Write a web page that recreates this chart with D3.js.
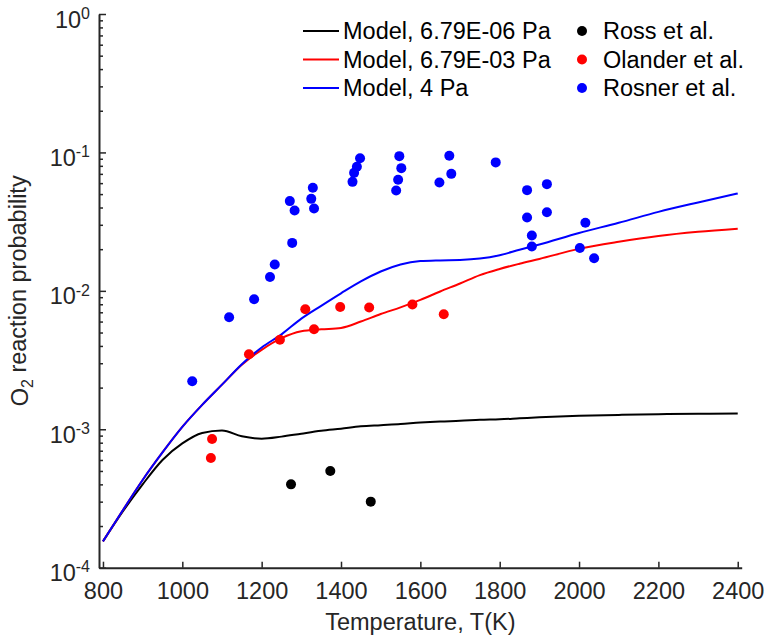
<!DOCTYPE html>
<html>
<head>
<meta charset="utf-8">
<script src="https://cdn.jsdelivr.net/npm/d3@7"></script>
<style>
  body { margin: 0; background: #fff; }
  text { font-family: "Liberation Sans", Arial, sans-serif; }
</style>
</head>
<body>
<div id="wrapper"></div>
<script>
// DATA
const tempGrid = [800, 850, 900, 950, 1000, 1050, 1100, 1150, 1200, 1250, 1300, 1350, 1400, 1450,
  1500, 1550, 1600, 1650, 1700, 1750, 1800, 1850, 1900, 2000, 2100, 2200, 2300, 2400]

const modelLow = [1.55e-4, 2.55e-4, 4.0e-4, 6.0e-4, 7.9e-4, 9.4e-4, 9.8e-4, 8.9e-4, 8.55e-4, 8.85e-4,
  9.3e-4, 9.75e-4, 1.01e-3, 1.05e-3, 1.07e-3, 1.09e-3, 1.12e-3, 1.14e-3, 1.15e-3, 1.17e-3,
  1.18e-3, 1.2e-3, 1.22e-3, 1.25e-3, 1.27e-3, 1.285e-3, 1.295e-3, 1.3e-3]

const modelMid = [1.55e-4, 2.6e-4, 4.3e-4, 6.8e-4, 1.04e-3, 1.5e-3, 2.1e-3, 2.93e-3, 3.75e-3, 4.55e-3,
  5.1e-3, 5.27e-3, 5.4e-3, 6.0e-3, 6.8e-3, 7.6e-3, 8.6e-3, 9.9e-3, 0.0113, 0.013,
  0.0144, 0.0157, 0.017, 0.0201, 0.0226, 0.0249, 0.0267, 0.0281]

const modelHigh = [1.55e-4, 2.6e-4, 4.3e-4, 6.8e-4, 1.04e-3, 1.5e-3, 2.1e-3, 2.95e-3, 3.9e-3, 4.85e-3,
  6.3e-3, 7.8e-3, 9.6e-3, 0.0117, 0.0138, 0.0155, 0.0164, 0.0166, 0.0167, 0.0171,
  0.0181, 0.0198, 0.0216, 0.0262, 0.031, 0.0372, 0.0435, 0.0505]

const rossT = [1274, 1373, 1475]
const rossP = [4.0e-4, 5.0e-4, 3.0e-4]

const olanderT = [1075, 1072, 1168, 1246, 1310, 1332, 1398, 1471, 1580, 1659]
const olanderP = [8.5e-4, 6.2e-4, 3.48e-3, 4.44e-3, 7.36e-3, 5.28e-3, 7.65e-3, 7.57e-3, 7.96e-3, 6.77e-3]

const rosnerT = [1025, 1118, 1181, 1221, 1233, 1277, 1271, 1283, 1329, 1325, 1332, 1429, 1433, 1440,
  1448, 1547, 1552, 1544, 1539, 1673, 1678, 1648, 1790, 1869, 1919, 1869, 1919, 2016, 1881,
  1881, 2002, 2038]
const rosnerP = [2.22e-3, 6.44e-3, 8.7e-3, 0.0126, 0.0155, 0.0222, 0.0445, 0.0381, 0.0555, 0.0462,
  0.0394, 0.0613, 0.0712, 0.0787, 0.0909, 0.094, 0.077, 0.0634, 0.0531, 0.0945, 0.07, 0.0607,
  0.0847, 0.0534, 0.059, 0.0339, 0.037, 0.031, 0.0251, 0.0209, 0.0204, 0.0172]

const xTicks = [800, 1000, 1200, 1400, 1600, 1800, 2000, 2200, 2400]
const yExponents = [-4, -3, -2, -1, 0]

const lineSeries = [
  { name: "Model, 6.79E-06 Pa", values: modelLow, color: "#000000" },
  { name: "Model, 6.79E-03 Pa", values: modelMid, color: "#ff0000" },
  { name: "Model, 4 Pa", values: modelHigh, color: "#0000ff" }
]
const pointSeries = [
  { name: "Ross et al.", t: rossT, p: rossP, color: "#000000" },
  { name: "Olander et al.", t: olanderT, p: olanderP, color: "#ff0000" },
  { name: "Rosner et al.", t: rosnerT, p: rosnerP, color: "#0000ff" }
]

// DIMENSIONS
const dimensions = {
  width: 765,
  height: 641,
  margin: { top: 14, right: 23.3, bottom: 73.3, left: 99 }
}
dimensions.boundedWidth = dimensions.width - dimensions.margin.left - dimensions.margin.right
dimensions.boundedHeight = dimensions.height - dimensions.margin.top - dimensions.margin.bottom

const axisColor = "#262626"
const fontSize = 23.5

const svg = d3.select("#wrapper").append("svg")
  .attr("width", dimensions.width)
  .attr("height", dimensions.height)

const bounds = svg.append("g")
  .attr("transform", `translate(${dimensions.margin.left},${dimensions.margin.top})`)

// SCALES
const xScale = d3.scaleLinear().domain([790, 2410]).range([0, dimensions.boundedWidth])
const yScale = d3.scaleLog().domain([1e-4, 1]).range([dimensions.boundedHeight, 0])

// LINES
const lineGen = d3.line()
  .x((d, i) => xScale(tempGrid[i]))
  .y(d => yScale(d))
  .curve(d3.curveMonotoneX)

lineSeries.forEach(s => {
  bounds.append("path")
    .attr("d", lineGen(s.values))
    .attr("fill", "none")
    .attr("stroke", s.color)
    .attr("stroke-width", 2)
})

// POINTS
pointSeries.forEach(s => {
  bounds.selectAll(null)
    .data(s.t.map((t, i) => [t, s.p[i]]))
    .enter().append("circle")
    .attr("cx", d => xScale(d[0]))
    .attr("cy", d => yScale(d[1]))
    .attr("r", 5)
    .attr("fill", s.color)
})

// X AXIS (ticks inside)
const xAxis = bounds.append("g")
  .attr("transform", `translate(0,${dimensions.boundedHeight})`)
  .call(d3.axisBottom(xScale).tickValues(xTicks).tickFormat(d3.format("d"))
    .tickSizeInner(-6).tickSizeOuter(0).tickPadding(15))
xAxis.select(".domain").attr("stroke", axisColor).attr("stroke-width", 2)
xAxis.selectAll(".tick line").attr("stroke", axisColor).attr("stroke-width", 1.5)
xAxis.selectAll(".tick text")
  .attr("fill", axisColor)
  .style("font-size", fontSize + "px")
  .style("font-family", "Liberation Sans, Arial, sans-serif")

// Y AXIS (log, major + minor)
const yMajors = yExponents.map(e => Math.pow(10, e))
const yMinors = []
yExponents.slice(0, -1).forEach(e => {
  for (let k = 2; k <= 9; k++) yMinors.push(k * Math.pow(10, e))
})

const yMinor = bounds.append("g")
  .call(d3.axisLeft(yScale).tickValues(yMinors).tickSizeInner(-4).tickSizeOuter(0).tickFormat(""))
yMinor.select(".domain").remove()
yMinor.selectAll(".tick line").attr("stroke", axisColor).attr("stroke-width", 1.5)

const yAxis = bounds.append("g")
  .call(d3.axisLeft(yScale).tickValues(yMajors).tickSizeInner(-7).tickSizeOuter(0).tickFormat(""))
yAxis.select(".domain").attr("stroke", axisColor).attr("stroke-width", 2)
yAxis.selectAll(".tick line").attr("stroke", axisColor).attr("stroke-width", 1.5)

const yLabels = yAxis.selectAll(".tick").append("text")
  .attr("x", -9)
  .attr("y", 13)
  .attr("text-anchor", "end")
  .attr("fill", axisColor)
  .style("font-size", fontSize + "px")
yLabels.append("tspan").text("10")
yLabels.append("tspan")
  .attr("dy", "-0.55em")
  .style("font-size", "16px")
  .text((d, i) => yExponents[i])

// AXIS TITLES
svg.append("text")
  .attr("x", dimensions.margin.left + dimensions.boundedWidth / 2)
  .attr("y", 630)
  .attr("text-anchor", "middle")
  .attr("fill", axisColor)
  .style("font-size", fontSize + "px")
  .text("Temperature, T(K)")

const yTitle = svg.append("text")
  .attr("transform", `translate(28,${dimensions.margin.top + dimensions.boundedHeight / 2}) rotate(-90)`)
  .attr("text-anchor", "middle")
  .attr("fill", axisColor)
  .style("font-size", fontSize + "px")
yTitle.append("tspan").text("O")
yTitle.append("tspan").attr("dy", "0.3em").style("font-size", "16px").text("2")
yTitle.append("tspan").attr("dy", "-0.3em").text(" reaction probability")

// LEGEND
const legend = svg.append("g")
const rowY = [31, 59.5, 88]

lineSeries.forEach((s, i) => {
  legend.append("line")
    .attr("x1", 303).attr("x2", 339)
    .attr("y1", rowY[i]).attr("y2", rowY[i])
    .attr("stroke", s.color).attr("stroke-width", 2)
  legend.append("text")
    .attr("x", 343).attr("y", rowY[i] + 8)
    .style("font-size", fontSize + "px")
    .text(s.name)
})

pointSeries.forEach((s, i) => {
  legend.append("circle")
    .attr("cx", 582).attr("cy", rowY[i])
    .attr("r", 5).attr("fill", s.color)
  legend.append("text")
    .attr("x", 603).attr("y", rowY[i] + 8)
    .style("font-size", fontSize + "px")
    .text(s.name)
})
</script>
</body>
</html>
